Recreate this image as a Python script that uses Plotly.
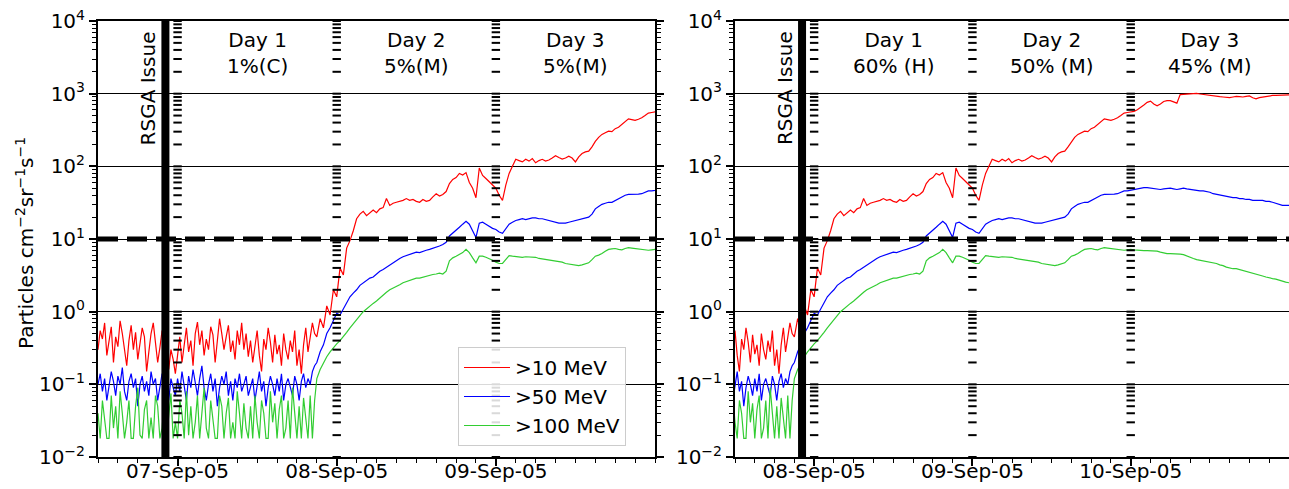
import pandas as pd
import plotly.graph_objects as go
from plotly.subplots import make_subplots

# ---------------- data ----------------
start_time = "2005-09-06 12:00"
baseline_step_minutes = 20
event_start_hour = 33       # event data start (hours after start_time)
event_step_minutes = 30

red_baseline = [0.3,0.55,0.42,0.7,0.25,0.38,0.62,0.2,0.45,0.33,0.75,0.5,0.28,0.18,0.4,0.65,0.3,0.52,
                0.22,0.35,0.6,0.45,0.15,0.28,0.5,0.7,0.38,0.2,0.32,0.55,0.25,0.42,0.16,0.3,0.22,0.14,
                0.25,0.45,0.2,0.35,0.6,0.28,0.4,0.18,0.5,0.72,0.35,0.55,0.25,0.42,0.3,0.62,0.48,0.2,
                0.38,0.8,0.5,0.3,0.45,0.65,0.28,0.4,0.22,0.55,0.35,0.7,0.3,0.5,0.24,
                0.4,0.2,0.33,0.55,0.25,0.15,0.42,0.3,0.6,0.38,0.2,0.48,0.26,0.35,0.18,0.5,0.3,0.22,
                0.4,0.28,0.55,0.18,0.3,0.14,0.35,0.6,0.28,0.45,0.7,0.5]
blue_baseline = [0.1,0.14,0.08,0.12,0.06,0.09,0.15,0.11,0.07,0.13,0.1,0.17,0.08,0.06,0.11,0.14,0.09,0.12,
                 0.05,0.1,0.13,0.08,0.11,0.07,0.15,0.1,0.12,0.06,0.09,0.14,0.08,0.11,0.06,0.12,0.09,0.07,
                 0.12,0.08,0.15,0.1,0.06,0.13,0.09,0.16,0.11,0.07,0.12,0.18,0.09,0.06,0.1,0.14,0.08,0.12,
                 0.05,0.09,0.13,0.1,0.15,0.07,0.11,0.06,0.12,0.09,0.14,0.08,0.1,0.13,0.07,
                 0.09,0.12,0.06,0.1,0.15,0.08,0.11,0.05,0.09,0.13,0.1,0.07,0.12,0.08,0.14,0.06,0.1,0.12,
                 0.09,0.07,0.13,0.1,0.06,0.11,0.14,0.09,0.12,0.1,0.15,0.18]
green_baseline = [0.04,0.018,0.06,0.03,0.018,0.018,0.07,0.025,0.05,0.018,0.08,0.04,0.018,0.03,0.06,0.018,0.018,0.05,
                  0.09,0.02,0.018,0.045,0.06,0.018,0.035,0.018,0.07,0.05,0.018,0.025,0.06,0.018,0.04,0.075,0.018,0.03,
                  0.018,0.06,0.04,0.018,0.08,0.02,0.05,0.018,0.03,0.07,0.018,0.045,0.09,0.025,0.018,0.06,0.035,0.018,
                  0.018,0.07,0.05,0.018,0.04,0.065,0.018,0.03,0.018,0.08,0.04,0.018,0.055,0.025,0.018,
                  0.05,0.018,0.07,0.03,0.018,0.06,0.04,0.018,0.018,0.08,0.03,0.055,0.018,0.045,0.07,0.018,0.025,0.06,
                  0.018,0.09,0.04,0.018,0.05,0.018,0.065,0.03,0.018,0.07,0.018,0.06]

red_event = [0.45,0.8,0.6,1.2,0.9,2.0,1.6,4.0,3.2,7.5,9.5,13,19,22,24,21,23,25,23,26,
             27,36,29,31,32,33,34,36,34,35,33,32,35,33,34,38,42,39,41,45,
             58,66,70,80,76,82,60,50,37,95,75,68,62,56,50,40,34,55,80,100,
             125,120,115,125,118,128,112,120,125,118,122,130,140,132,126,130,138,130,115,135,
             150,158,162,185,220,250,275,290,305,300,330,345,380,420,450,440,430,445,465,500,
             540,550,560,570,600,640,700,760,790,720,680,720,780,800,800,770,740,970,980,970,
             990,1000,1010,990,980,960,950,930,930,910,900,890,880,900,920,910,900,920,930,880,
             850,880,900,920,940,945,950,955,960,960,960]
blue_event = [0.2,0.28,0.35,0.5,0.6,0.75,0.95,0.9,1.1,1.35,1.6,1.8,2.0,2.3,2.5,2.7,2.9,3.0,3.3,3.6,
              3.8,4.1,4.4,4.7,5.0,5.4,5.7,5.9,6.2,6.4,6.6,6.5,6.8,7.0,7.2,7.4,7.6,8.0,8.4,9.0,
              11,12,13,14.5,16,17.5,16,13,10.5,16.5,17,16,15,14,13.5,12.5,12,14,16,17,
              18,18.5,19,18.5,19,19.5,19.5,19,19,18.5,18,17.5,17,16.5,16.5,16.5,17,17.5,18,18.5,
              19,19.5,20,22,26,28,30,31,32,32,34,36,38,40,41,41,41,41.5,42,44,
              46,46,47,48,49,50,51,51,50,49,48,48,49,50,50,49,48,49,50,49,
              48,47,47,46,46,45,44,42,41,40,39,38,37,37,37,36,36,35,35,34,
              34,34,34,33,33,32,31,30,29,29,29]
green_event = [0.12,0.16,0.2,0.24,0.28,0.32,0.36,0.4,0.45,0.52,0.6,0.68,0.75,0.88,1.0,1.1,1.2,1.3,1.4,1.55,
               1.7,1.85,2.0,2.1,2.2,2.35,2.5,2.6,2.7,2.8,2.9,2.9,3.0,3.1,3.2,3.25,3.3,3.4,3.3,3.6,
               5.0,5.5,5.8,6.2,6.5,7.2,6.5,5.5,4.7,5.8,5.8,5.6,5.4,5.1,4.8,4.6,4.6,5.2,5.9,5.8,
               5.7,5.6,5.6,5.7,5.7,5.6,5.6,5.4,5.3,5.2,5.1,5.0,5.0,4.9,4.8,4.6,4.5,4.4,4.3,4.3,
               4.4,4.5,4.7,5.2,5.8,6.0,6.3,6.8,7.2,7.3,7.4,7.2,7.1,7.4,7.6,7.5,7.4,7.3,7.2,7.1,
               7.0,7.1,7.2,7.1,7.0,6.9,6.9,6.9,6.9,6.8,6.8,6.6,6.4,6.3,6.3,6.3,6.2,6.2,6.1,5.9,
               5.6,5.4,5.2,5.1,5.0,4.8,4.7,4.7,4.6,4.4,4.3,4.1,4.0,3.9,3.9,3.8,3.7,3.6,3.5,3.4,
               3.3,3.2,3.1,3.0,2.9,2.85,2.8,2.7,2.6,2.55,2.5]

series_names = [">10 MeV", ">50 MeV", ">100 MeV"]
series_colors = ["#ff0000", "#0000ff", "#32cd32"]

panel_ranges = [("2005-09-06 12:00", "2005-09-10 00:00"), ("2005-09-07 12:00", "2005-09-11 00:00")]
panel_day_ticks = [["2005-09-07", "2005-09-08", "2005-09-09"], ["2005-09-08", "2005-09-09", "2005-09-10"]]
rsga_times = ["2005-09-06 22:10", "2005-09-07 22:10"]
day_label_times = [["2005-09-07 12:00", "2005-09-08 12:00", "2005-09-09 12:00"],
                   ["2005-09-08 12:00", "2005-09-09 12:00", "2005-09-10 12:00"]]
day_labels = [["Day 1<br>1%(C)", "Day 2<br>5%(M)", "Day 3<br>5%(M)"],
              ["Day 1<br>60% (H)", "Day 2<br>50% (M)", "Day 3<br>45% (M)"]]
threshold = 10
y_tick_vals = [1e-2, 1e-1, 1e0, 1e1, 1e2, 1e3, 1e4]
y_tick_text = ["10<sup>−2</sup>", "10<sup>−1</sup>", "10<sup>0</sup>", "10<sup>1</sup>",
               "10<sup>2</sup>", "10<sup>3</sup>", "10<sup>4</sup>"]

# ---------------- build ----------------
t0 = pd.Timestamp(start_time)


def make_times(baseline, event):
    return ([t0 + pd.Timedelta(minutes=baseline_step_minutes * i) for i in range(len(baseline))] +
            [t0 + pd.Timedelta(hours=event_start_hour) + pd.Timedelta(minutes=event_step_minutes * i)
             for i in range(len(event))])


series = [(make_times(red_baseline, red_event), red_baseline + red_event),
          (make_times(blue_baseline, blue_event), blue_baseline + blue_event),
          (make_times(green_baseline, green_event), green_baseline + green_event)]

minor_vals = [k * 10.0 ** n for n in range(-2, 4) for k in range(2, 10)]
day_mark_vals = [k * 10.0 ** n for n in range(-2, 4) for k in range(1, 10)] + [1e4]

fig = make_subplots(rows=1, cols=2)
W, H = 1289, 489
ml, mr, mt, mb = 98, 0, 21, 32
pw = W - ml - mr
ph = H - mt - mb
dom1 = [0, (655 - ml) / pw]
dom2 = [(735 - ml) / pw, 1.0]

for p in range(2):
    col = p + 1
    for (tt, s), name, color in zip(series, series_names, series_colors):
        fig.add_trace(go.Scatter(x=tt, y=s, mode="lines", name=name,
                                 line=dict(color=color, width=1.2),
                                 showlegend=(p == 0)), row=1, col=col)
    for d in panel_day_ticks[p]:
        fig.add_trace(go.Scatter(x=[d] * len(day_mark_vals), y=day_mark_vals, mode="markers",
                                 marker=dict(symbol="line-ew", size=6, color="black",
                                             line=dict(color="black", width=2)),
                                 showlegend=False, hoverinfo="skip"), row=1, col=col)
    fig.add_trace(go.Scatter(x=list(panel_ranges[p]), y=[threshold, threshold], mode="lines",
                             line=dict(color="black", width=5, dash="20px,9px"),
                             showlegend=False, hoverinfo="skip"), row=1, col=col)
    fig.add_trace(go.Scatter(x=[rsga_times[p]] * 2, y=[y_tick_vals[0], y_tick_vals[-1]], mode="lines",
                             line=dict(color="black", width=8),
                             showlegend=False, hoverinfo="skip"), row=1, col=col)

    xa = "xaxis" if p == 0 else "xaxis2"
    ya = "yaxis" if p == 0 else "yaxis2"
    fig.layout[xa].update(
        domain=dom1 if p == 0 else dom2, type="date", range=list(panel_ranges[p]),
        tickvals=panel_day_ticks[p], tickformat="%d-%b-%y", ticks="outside", ticklen=7,
        tickwidth=1.5, tickcolor="black", showgrid=False, showline=True, linecolor="black",
        linewidth=2, mirror=True, zeroline=False, automargin=False, ticklabelstandoff=-12,
        minor=dict(dtick=3 * 3600 * 1000, tick0="2005-09-06", ticks="outside", ticklen=4,
                   tickwidth=1, tickcolor="black", showgrid=False))
    fig.layout[ya].update(
        type="log", range=[-2, 4], tickvals=y_tick_vals, ticktext=y_tick_text,
        ticks="outside", ticklen=7, tickwidth=1.5, tickcolor="black",
        showgrid=True, gridcolor="black", gridwidth=1, showline=True, linecolor="black",
        linewidth=2, mirror="ticks", zeroline=False, automargin=False,
        minor=dict(tickvals=minor_vals, ticks="outside", ticklen=4, tickwidth=1,
                   tickcolor="black", showgrid=False))

    xr = "x" if p == 0 else "x2"
    yr = "y domain" if p == 0 else "y2 domain"
    fig.add_annotation(x=rsga_times[p], xref=xr, y=(457 - 88) / ph, yref=yr, text="RSGA Issue",
                       textangle=-90, showarrow=False, xshift=-17, yanchor="middle",
                       xanchor="center", font=dict(size=20))
    for t, lab in zip(day_label_times[p], day_labels[p]):
        fig.add_annotation(x=t, xref=xr, y=(457 - 53) / ph, yref=yr, text=lab, showarrow=False,
                           yanchor="middle", xanchor="center", font=dict(size=20))

fig.add_annotation(x=(25 - ml) / pw, xref="paper", y=(457 - 243) / ph, yref="paper",
                   text="Particles cm<sup>−2</sup>sr<sup>−1</sup>s<sup>−1</sup>",
                   textangle=-90, showarrow=False, xanchor="center", yanchor="middle",
                   font=dict(size=20))

fig.update_layout(
    width=W, height=H, margin=dict(l=ml, r=mr, t=mt, b=mb, autoexpand=False),
    paper_bgcolor="white", plot_bgcolor="white",
    font=dict(family="DejaVu Sans", size=20, color="black"),
    legend=dict(x=(458 - ml) / pw, y=(457 - 347) / ph, xanchor="left", yanchor="top",
                bgcolor="rgba(255,255,255,0.85)", bordercolor="#cccccc", borderwidth=1,
                itemwidth=46, font=dict(size=20)),
)

fig.write_html("out.html")
